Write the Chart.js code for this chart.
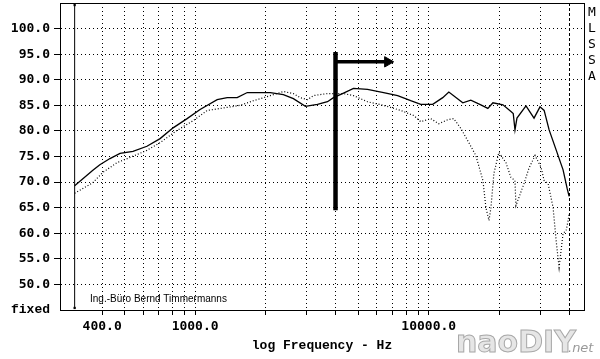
<!DOCTYPE html>
<html>
<head>
<meta charset="utf-8">
<style>
html, body { margin: 0; padding: 0; background: #fff; }
#wrap { width: 600px; height: 359px; position: relative; }
</style>
<script src="https://cdn.jsdelivr.net/npm/chart.js@4.4.0/dist/chart.umd.min.js"></script>
</head>
<body>
<div id="wrap"><canvas id="c"></canvas></div>
<script>
// frequency response, solid trace (Hz / dB)
const freqSolid = [305, 365, 391, 432, 477, 542, 622, 708, 805, 924, 1050, 1243, 1372, 1514, 1672, 1846, 2098, 2386, 2634, 2965,
  3339, 3686, 3910, 4273, 4765, 5470, 6410, 7360, 8370, 9245, 10400, 11480, 12190, 13990, 15140, 16710, 17910, 18830, 20780, 22490,
  23000, 23400, 23860, 26080, 28230, 29940, 31190, 32760, 35100, 37590, 39100, 39900];
const dbSolid = [69.3, 72.3, 73.4, 74.6, 75.6, 76.0, 77.0, 78.5, 80.6, 82.4, 84.2, 86.1, 86.5, 86.5, 87.5, 87.5, 87.5, 87.1, 86.3, 84.8,
  85.2, 85.7, 86.5, 87.3, 88.3, 88.1, 87.5, 86.9, 85.9, 85.2, 85.2, 86.5, 87.6, 85.5, 86.0, 85.1, 84.4, 85.5, 85.1, 83.8,
  83.4, 80.2, 82.5, 84.9, 82.5, 84.7, 84.0, 80.2, 76.3, 72.4, 68.8, 67.2];

// dotted trace
const freqDotted = [305, 365, 403, 463, 526, 622, 708, 837, 980, 1126, 1372, 1560, 1774, 1901, 2098, 2386, 2634, 2823, 3025, 3208,
  3686, 4315, 4765, 5470, 6410, 7585, 8630, 9245, 10200, 11040, 12070, 12800, 13720, 14850, 15910, 17060, 17570, 18110, 18460, 19010,
  19960, 21400, 22490, 23400, 23620, 24330, 25570, 26850, 28520, 30240, 31190, 32430, 34070, 35100, 36140, 37590, 38730, 39520, 39900];
const dbDotted = [67.8, 69.9, 71.9, 73.8, 74.8, 76.2, 77.7, 80.1, 82.0, 84.0, 84.6, 85.0, 85.9, 86.3, 86.9, 87.7, 87.3, 86.5, 86.1, 86.9,
  87.3, 87.3, 86.9, 85.7, 85.0, 84.0, 83.0, 81.8, 82.4, 81.4, 82.2, 82.4, 80.5, 77.7, 75.2, 70.3, 65.0, 62.5, 65.0, 71.7,
  75.8, 73.8, 70.9, 70.3, 65.4, 67.0, 69.7, 72.7, 75.2, 72.9, 70.3, 69.7, 65.0, 58.6, 53.3, 60.0, 60.5, 62.5, 63.9];

// axes
const xTicks = [400, 500, 600, 700, 800, 900, 1000, 2000, 3000, 4000, 5000, 6000, 7000, 8000, 9000, 10000, 20000, 30000, 40000];
const xLabels = [400, 1000, 10000];
const yTicks = [45, 50, 55, 60, 65, 70, 75, 80, 85, 90, 95, 100];

// markers: left cursor, right (dashed) limit, the big arrow
const cursorFreq = 305;
const limitFreq = 40000;
const arrowFreq = [3990, 6500, 6670];
const arrowDb = [64.5, 95.4, 93.5];

const mono = { family: 'DejaVu Sans Mono', size: 13, weight: 'bold' };
const serifMono = { family: 'Liberation Mono', size: 13, weight: 'bold' };

const frame = {
  id: 'frame',
  afterDraw(chart) {
    const { ctx, chartArea: a } = chart;
    ctx.save();
    ctx.strokeStyle = '#000';
    ctx.lineWidth = 1;
    ctx.strokeRect(a.left + 0.5, a.top + 0.5, a.right - a.left, a.bottom - a.top);

    ctx.fillStyle = '#000';
    ctx.font = '13px "DejaVu Sans Mono"';
    ctx.textAlign = 'center';
    ctx.textBaseline = 'middle';
    'MLSSA'.split('').forEach((ch, i) => ctx.fillText(ch, 592, 13 + i * 16));

    ctx.font = '10px "Liberation Sans"';
    ctx.textAlign = 'left';
    ctx.fillText('Ing.-Büro Bernd Timmermanns', a.left + 30, a.bottom - 11);

    // watermark
    ctx.font = 'bold 30px "DejaVu Sans"';
    ctx.textBaseline = 'alphabetic';
    ctx.fillStyle = '#e6e6e6';
    ctx.strokeStyle = '#a8a8a8';
    ctx.fillText('naoDIY', 456, 352);
    ctx.strokeText('naoDIY', 456, 352);
    ctx.font = 'italic 13px "DejaVu Sans"';
    ctx.fillStyle = '#999';
    ctx.fillText('.net', 568, 352);
    ctx.restore();
  }
};

const pts = (xs, ys) => xs.map((x, i) => ({ x: x, y: ys[i] }));

new Chart(document.getElementById('c'), {
  type: 'line',
  data: {
    datasets: [
      { data: pts(freqSolid, dbSolid), borderColor: '#000', borderWidth: 1.3, pointRadius: 0 },
      { data: pts(freqDotted, dbDotted), borderColor: '#000', borderWidth: 1.2, borderDash: [1, 2], pointRadius: 0 },
      { data: [{ x: cursorFreq, y: 45.4 }, { x: cursorFreq, y: 104.6 }], borderColor: '#000', borderWidth: 1,
        pointStyle: 'rect', pointRadius: 1.6, pointBackgroundColor: '#000', pointBorderWidth: 0 },
      { data: [{ x: arrowFreq[0], y: arrowDb[0] }, { x: arrowFreq[0], y: arrowDb[1] }], borderColor: '#000', borderWidth: 4.5,
        pointRadius: 0 },
      { data: [{ x: arrowFreq[0], y: arrowDb[2] }, { x: arrowFreq[1], y: arrowDb[2] }], borderColor: '#000', borderWidth: 3.5,
        pointRadius: 0 },
      { data: [{ x: arrowFreq[2], y: arrowDb[2] }], showLine: false, pointStyle: 'triangle', rotation: 90, pointRadius: 6,
        pointBackgroundColor: '#000', pointBorderColor: '#000', pointBorderWidth: 1 }
    ]
  },
  options: {
    responsive: true,
    maintainAspectRatio: false,
    animation: false,
    layout: { autoPadding: false, padding: { top: 3, right: 16, left: 0, bottom: 0 } },
    plugins: { legend: { display: false }, tooltip: { enabled: false } },
    scales: {
      x: {
        type: 'logarithmic',
        min: 264,
        max: 46200,
        afterBuildTicks: s => { s.ticks = xTicks.map(v => ({ value: v })); },
        afterFit: s => { s.height = 49; s.paddingLeft = 0; s.paddingRight = 0; },
        grid: {
          color: '#000',
          lineWidth: 1,
          tickLength: 5,
          tickColor: '#000'
        },
        border: {
          display: true,
          color: '#000',
          dash: c => (c.tick && c.tick.value === limitFreq ? [3, 2] : [1, 3])
        },
        ticks: {
          autoSkip: false,
          maxRotation: 0,
          padding: 4,
          color: '#000',
          font: mono,
          callback: v => (xLabels.includes(v) ? v.toFixed(1) : '')
        },
        title: {
          display: true,
          text: 'log Frequency - Hz',
          color: '#000',
          font: serifMono,
          padding: { top: 0, bottom: 5 }
        }
      },
      y: {
        min: 45,
        max: 105,
        afterBuildTicks: s => { s.ticks = yTicks.map(v => ({ value: v })); },
        afterFit: s => { s.width = 60; s.paddingTop = 0; s.paddingBottom = 0; },
        grid: {
          color: c => (c.tick && c.tick.value === 45 ? 'rgba(0,0,0,0)' : '#000'),
          tickColor: c => (c.tick && c.tick.value === 45 ? 'rgba(0,0,0,0)' : '#000'),
          lineWidth: 1,
          tickLength: 6
        },
        border: { display: true, color: '#000', dash: [1, 3] },
        ticks: {
          padding: 4,
          color: '#000',
          font: c => (c.tick && c.tick.value === 45 ? serifMono : mono),
          callback: v => (v === 45 ? 'fixed' : v.toFixed(1))
        }
      }
    }
  },
  plugins: [frame]
});
</script>
</body>
</html>
